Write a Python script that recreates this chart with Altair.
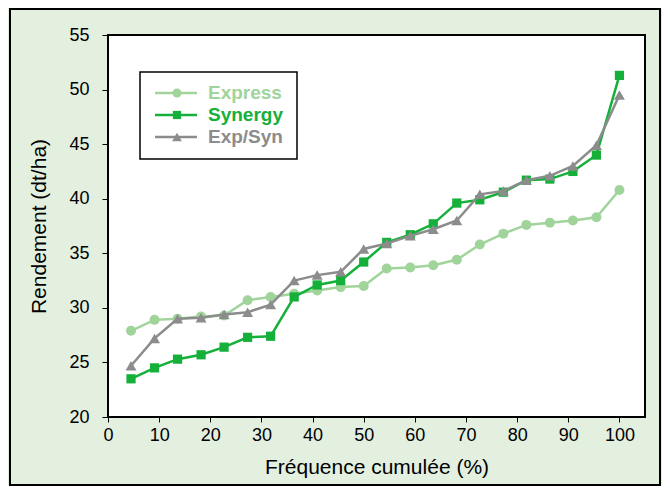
import altair as alt
import pandas as pd

# cumulative frequency (%) for the 22 ranked observations
x_pct = [4.5, 9.1, 13.6, 18.2, 22.7, 27.3, 31.8, 36.4, 40.9, 45.5, 50.0,
         54.5, 59.1, 63.6, 68.2, 72.7, 77.3, 81.8, 86.4, 90.9, 95.5, 100.0]
express = [27.9, 28.9, 29.0, 29.2, 29.3, 30.7, 31.0, 31.3, 31.6, 31.9, 32.0,
           33.6, 33.7, 33.9, 34.4, 35.8, 36.8, 37.6, 37.8, 38.0, 38.3, 40.8]
synergy = [23.5, 24.5, 25.3, 25.7, 26.4, 27.3, 27.4, 31.0, 32.1, 32.5, 34.2,
           36.0, 36.7, 37.7, 39.6, 39.9, 40.6, 41.7, 41.8, 42.5, 44.0, 51.3]
expsyn = [24.7, 27.2, 29.0, 29.1, 29.4, 29.6, 30.3, 32.5, 33.0, 33.3, 35.4,
          35.9, 36.6, 37.2, 38.0, 40.4, 40.7, 41.7, 42.1, 43.0, 44.9, 49.5]

series_names = ["Express", "Synergy", "Exp/Syn"]
series_values = [express, synergy, expsyn]
colors = ["#a0d49b", "#14b03a", "#8c8c8c"]
shapes = ["circle", "square", "triangle-up"]
sizes = [100, 85, 120]

x_ticks = list(range(0, 101, 10))
y_ticks = list(range(20, 56, 5))

FONT = "Arial"
FS = 18
TFS = 21

xscale = alt.Scale(domain=[0, 105], nice=False, zero=False)
yscale = alt.Scale(domain=[20, 55], nice=False, zero=False)

xaxis = alt.Axis(values=x_ticks, title="Fréquence cumulée (%)", grid=False,
                 labelFont=FONT, labelFontSize=FS, titleFont=FONT, titleFontSize=TFS,
                 titleFontWeight="normal", labelColor="black", titleColor="black",
                 domainColor="black", tickColor="black", tickSize=5,
                 labelPadding=4, titlePadding=12, labelFlush=False)
yaxis = alt.Axis(values=y_ticks, title="Rendement (dt/ha)", grid=False,
                 labelFont=FONT, labelFontSize=FS, titleFont=FONT, titleFontSize=TFS,
                 titleFontWeight="normal", labelColor="black", titleColor="black",
                 domainColor="black", tickColor="black", tickSize=6,
                 labelPadding=13, titlePadding=19)

layers = []

# outer frame around the whole figure
frame = alt.Chart(pd.DataFrame({"a": [0]})).mark_rect(
    fill=None, stroke="black", strokeWidth=2
).encode(x=alt.value(-98), x2=alt.value(552), y=alt.value(-26), y2=alt.value(450))
layers.append(frame)

first = True
for name, vals, col, shp, sz in zip(series_names, series_values, colors, shapes, sizes):
    df = pd.DataFrame({"x": x_pct, "y": vals, "series": name})
    if first:
        xe = alt.X("x:Q", scale=xscale, axis=xaxis)
        ye = alt.Y("y:Q", scale=yscale, axis=yaxis)
        first = False
    else:
        xe = alt.X("x:Q", scale=xscale)
        ye = alt.Y("y:Q", scale=yscale)
    line = alt.Chart(df).mark_line(color=col, strokeWidth=2.5).encode(x=xe, y=ye)
    pts = alt.Chart(df).mark_point(shape=shp, filled=True, size=sz, color=col,
                                   opacity=1).encode(x=xe, y=ye)
    layers += [line, pts]

# legend
legbox = alt.Chart(pd.DataFrame({"a": [0]})).mark_rect(
    fill="white", stroke="black", strokeWidth=1.5
).encode(x=alt.value(32), x2=alt.value(189), y=alt.value(37), y2=alt.value(124))
layers.append(legbox)
for i, (name, col, shp, sz) in enumerate(zip(series_names, colors, shapes, sizes)):
    ldf = pd.DataFrame({"name": [name]})
    yy = 58 + 22 * i
    layers.append(alt.Chart(ldf).mark_rule(color=col, strokeWidth=2.5).encode(
        x=alt.value(47), x2=alt.value(89), y=alt.value(yy)))
    layers.append(alt.Chart(ldf).mark_point(shape=shp, filled=True, size=sz * 0.8,
                                            color=col, opacity=1).encode(
        x=alt.value(69), y=alt.value(yy)))
    layers.append(alt.Chart(ldf).mark_text(align="left", baseline="middle",
                                           font=FONT, fontSize=19, fontWeight="bold",
                                           color=col).encode(
        x=alt.value(100), y=alt.value(yy), text="name:N"))

chart = alt.layer(*layers).properties(
    width=537, height=382,
    autosize=alt.AutoSizeParams(type="none"),
    padding={"left": 100, "top": 27, "right": 17, "bottom": 69},
    background="#e3efdf",
).configure_view(stroke="black", strokeWidth=2, fill="white")

chart.save("out.html", embed_options={"renderer": "svg", "actions": False})
